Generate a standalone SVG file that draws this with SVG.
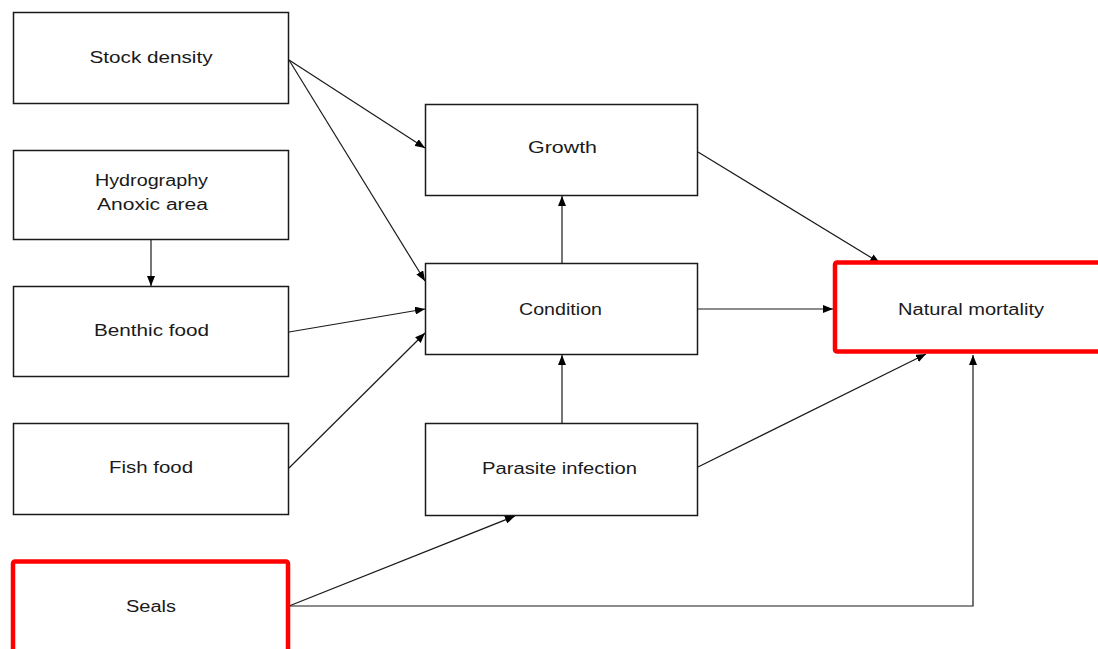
<svg xmlns="http://www.w3.org/2000/svg" width="1098" height="649" viewBox="0 0 1098 649">
  <style>
    .box { fill: #ffffff; stroke: #1a1a1a; stroke-width: 1.5; }
    .hot { fill: #ffffff; stroke: #ff0000; stroke-width: 4.5; }
    .lbl { font-family: "Liberation Sans", Arial, sans-serif; font-size: 16px; fill: #1a1a1a; text-anchor: middle; }
    .edge { fill: none; stroke: #1a1a1a; stroke-width: 1.2; marker-end: url(#arrow); }
  </style>
  <defs>
    <marker id="arrow" viewBox="0 0 10 8" refX="10" refY="4" markerWidth="10" markerHeight="8" markerUnits="userSpaceOnUse" orient="auto">
      <path d="M0,0 L10,4 L0,8 Z" fill="#000000"/>
    </marker>
  </defs>
  <rect width="1098" height="649" fill="#ffffff"/>

  <g id="connectors">
    <path class="edge" d="M289,60 L425,148"/>
    <path class="edge" d="M289,60 L425,281"/>
    <path class="edge" d="M151,240 L151,286"/>
    <path class="edge" d="M289,332 L425,309"/>
    <path class="edge" d="M289,468 L425,333"/>
    <path class="edge" d="M698,152 L880,263"/>
    <path class="edge" d="M698,309 L833,309"/>
    <path class="edge" d="M562,263 L562,196"/>
    <path class="edge" d="M562,423 L562,355"/>
    <path class="edge" d="M698,467 L926,354"/>
    <path class="edge" d="M289,606 L515,516"/>
    <path class="edge" d="M289,606 L973,606 L973,355"/>
  </g>

  <g id="stock-density">
    <rect class="box" x="13.5" y="12.5" width="275" height="91"/>
    <text class="lbl" x="151" y="63" textLength="123" lengthAdjust="spacingAndGlyphs">Stock density</text>
  </g>
  <g id="hydrography">
    <rect class="box" x="13.5" y="150.5" width="275" height="89"/>
    <text class="lbl" x="151.5" y="186" textLength="113" lengthAdjust="spacingAndGlyphs">Hydrography</text>
    <text class="lbl" x="152.5" y="210" textLength="111" lengthAdjust="spacingAndGlyphs">Anoxic area</text>
  </g>
  <g id="benthic-food">
    <rect class="box" x="13.5" y="286.5" width="275" height="90"/>
    <text class="lbl" x="151.5" y="336" textLength="115" lengthAdjust="spacingAndGlyphs">Benthic food</text>
  </g>
  <g id="fish-food">
    <rect class="box" x="13.5" y="423.5" width="275" height="91"/>
    <text class="lbl" x="151" y="473" textLength="84" lengthAdjust="spacingAndGlyphs">Fish food</text>
  </g>
  <g id="seals">
    <rect class="hot" x="13" y="561.5" width="275" height="120" rx="2"/>
    <text class="lbl" x="151" y="612" textLength="50" lengthAdjust="spacingAndGlyphs">Seals</text>
  </g>
  <g id="growth">
    <rect class="box" x="425.5" y="104.5" width="272" height="91"/>
    <text class="lbl" x="562.5" y="153" textLength="69" lengthAdjust="spacingAndGlyphs">Growth</text>
  </g>
  <g id="condition">
    <rect class="box" x="425.5" y="263.5" width="272" height="91"/>
    <text class="lbl" x="560.5" y="315" textLength="83" lengthAdjust="spacingAndGlyphs">Condition</text>
  </g>
  <g id="parasite-infection">
    <rect class="box" x="425.5" y="423.5" width="272" height="92"/>
    <text class="lbl" x="559.5" y="474" textLength="155" lengthAdjust="spacingAndGlyphs">Parasite infection</text>
  </g>
  <g id="natural-mortality">
    <rect class="hot" x="835" y="262.5" width="300" height="89" rx="2"/>
    <text class="lbl" x="971" y="315" textLength="146" lengthAdjust="spacingAndGlyphs">Natural mortality</text>
  </g>
</svg>
